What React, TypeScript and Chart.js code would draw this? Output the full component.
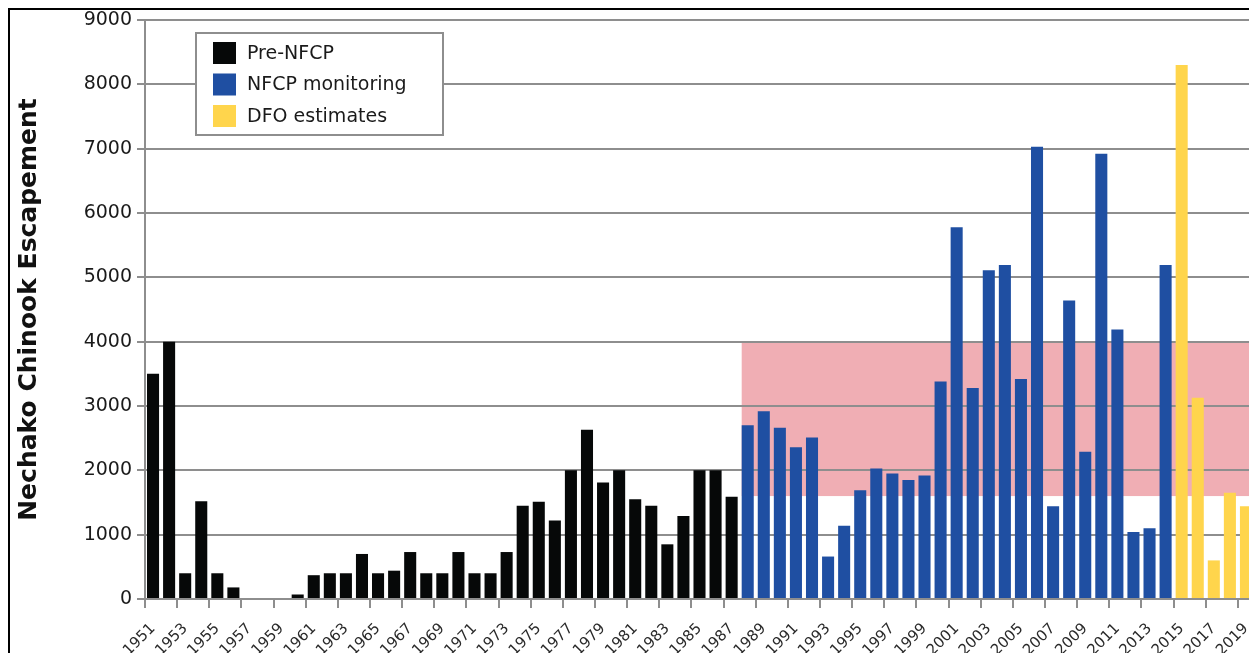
import React, { useEffect, useRef } from "react";
import { Chart, registerables } from "chart.js";

Chart.register(...registerables);

// ---- data ----
const YEARS = [
  "1951", "1952", "1953", "1954", "1955", "1956", "1957", "1958", "1959", "1960",
  "1961", "1962", "1963", "1964", "1965", "1966", "1967", "1968", "1969", "1970",
  "1971", "1972", "1973", "1974", "1975", "1976", "1977", "1978", "1979", "1980",
  "1981", "1982", "1983", "1984", "1985", "1986", "1987", "1988", "1989", "1990",
  "1991", "1992", "1993", "1994", "1995", "1996", "1997", "1998", "1999", "2000",
  "2001", "2002", "2003", "2004", "2005", "2006", "2007", "2008", "2009", "2010",
  "2011", "2012", "2013", "2014", "2015", "2016", "2017", "2018", "2019",
];

// 1951–1987
const PRE_NFCP = [
  3500, 4000, 400, 1520, 400, 180, 0, 0, 0, 70,
  370, 400, 400, 700, 400, 440, 730, 400, 400, 730,
  400, 400, 730, 1450, 1510, 1220, 2000, 2630, 1810, 2000,
  1550, 1450, 850, 1290, 2000, 2000, 1590,
];

// 1988–2014
const NFCP_MONITORING = [
  2700, 2920, 2660, 2360, 2510, 660, 1140, 1690, 2030, 1950,
  1850, 1920, 3380, 5780, 3280, 5110, 5190, 3420, 7030, 1440,
  4640, 2290, 6920, 4190, 1040, 1100, 5190,
];

// 2015–2019
const DFO_ESTIMATES = [8300, 3130, 600, 1650, 1440];

const SERIES_LABELS = ["Pre-NFCP", "NFCP monitoring", "DFO estimates"];
const SERIES_COLORS = ["#060808", "#1f4fa2", "#ffd54c"];

const Y_MIN = 0;
const Y_MAX = 9000;
const Y_STEP = 1000;

// target band (escapement range) from 1988 onward
const BAND_START_YEAR = "1988";
const BAND_LOW = 1600;
const BAND_HIGH = 4000;

const Y_TITLE = "Nechako Chinook Escapement";

// ---- styles ----
const FONT = "'DejaVu Sans', Verdana, sans-serif";
const GRID_GRAY = "#8e8e8e";
const BAND_COLOR = "#f0aeb4";
const BAR_PCT = 0.75;

function pad(values: number[], offset: number): (number | null)[] {
  return YEARS.map((_, i) => {
    const j = i - offset;
    return j >= 0 && j < values.length ? values[j] : null;
  });
}

const bandPlugin = {
  id: "bandPlugin",
  beforeDraw(chart: any) {
    const { ctx, chartArea, scales } = chart;
    const xs = scales.x;
    const ys = scales.y;
    const idx = YEARS.indexOf(BAND_START_YEAR);
    const catW = (chartArea.right - chartArea.left) / YEARS.length;
    const left = xs.getPixelForValue(idx) - (catW * BAR_PCT) / 2;
    const top = ys.getPixelForValue(BAND_HIGH);
    const bottom = ys.getPixelForValue(BAND_LOW);
    ctx.save();
    ctx.fillStyle = BAND_COLOR;
    ctx.fillRect(left, top, chartArea.right - left, bottom - top);
    ctx.restore();
  },
};

const boxLegendPlugin = {
  id: "boxLegend",
  afterDraw(chart: any) {
    const { ctx, chartArea } = chart;
    const bx = chartArea.left + 51;
    const by = chartArea.top + 13;
    const bw = 247;
    const bh = 102;
    ctx.save();
    ctx.fillStyle = "#ffffff";
    ctx.fillRect(bx, by, bw, bh);
    ctx.strokeStyle = GRID_GRAY;
    ctx.lineWidth = 2;
    ctx.strokeRect(bx, by, bw, bh);
    ctx.font = `19px ${FONT}`;
    ctx.textBaseline = "middle";
    ctx.textAlign = "left";
    chart.data.datasets.forEach((ds: any, i: number) => {
      const cy = by + 20 + i * 31.5;
      ctx.fillStyle = ds.backgroundColor;
      ctx.fillRect(bx + 17, cy - 11, 23, 22);
      ctx.fillStyle = "#1a1a1a";
      ctx.fillText(ds.label, bx + 51, cy + 1);
    });
    ctx.restore();
  },
};

export default function App() {
  const ref = useRef<HTMLCanvasElement | null>(null);

  useEffect(() => {
    if (!ref.current) return;
    const chart = new Chart(ref.current, {
      type: "bar",
      data: {
        labels: YEARS,
        datasets: [
          {
            label: SERIES_LABELS[0],
            data: pad(PRE_NFCP, 0),
            backgroundColor: SERIES_COLORS[0],
          },
          {
            label: SERIES_LABELS[1],
            data: pad(NFCP_MONITORING, PRE_NFCP.length),
            backgroundColor: SERIES_COLORS[1],
          },
          {
            label: SERIES_LABELS[2],
            data: pad(DFO_ESTIMATES, PRE_NFCP.length + NFCP_MONITORING.length),
            backgroundColor: SERIES_COLORS[2],
          },
        ],
      },
      options: {
        animation: false,
        responsive: false,
        maintainAspectRatio: false,
        layout: { padding: { top: 10, right: 1, left: 0, bottom: 0 } },
        datasets: {
          bar: { grouped: false, barPercentage: BAR_PCT, categoryPercentage: 1 },
        },
        plugins: {
          legend: { display: false },
          tooltip: { enabled: false },
        },
        scales: {
          x: {
            offset: true,
            grid: {
              offset: true,
              drawOnChartArea: false,
              tickLength: 9,
              lineWidth: 2,
              color: GRID_GRAY,
              tickColor: (c: any) => (c.index % 2 === 0 ? GRID_GRAY : "rgba(0,0,0,0)"),
            },
            border: { color: GRID_GRAY, width: 2 },
            ticks: {
              autoSkip: false,
              minRotation: 45,
              maxRotation: 45,
              padding: 12,
              color: "#2a2a2a",
              font: { family: FONT, size: 15 },
              callback: (_v: any, i: number) => (i % 2 === 0 ? YEARS[i] : ""),
            },
            afterFit: (s: any) => {
              s.height = 54;
              s.paddingLeft = 0;
              s.paddingRight = 0;
            },
          },
          y: {
            min: Y_MIN,
            max: Y_MAX,
            ticks: {
              stepSize: Y_STEP,
              color: "#1a1a1a",
              padding: 5,
              font: { family: FONT, size: 19 },
              callback: (v: any) => String(v),
            },
            grid: { color: GRID_GRAY, lineWidth: 2, tickLength: 8 },
            border: { color: GRID_GRAY, width: 2 },
            title: {
              display: true,
              text: Y_TITLE,
              color: "#111",
              font: { family: FONT, size: 25, weight: "bold" },
              padding: { top: 4, bottom: 0 },
            },
            afterFit: (s: any) => {
              s.width = 135;
              s.paddingTop = 0;
              s.paddingBottom = 0;
            },
          },
        },
      },
      plugins: [bandPlugin, boxLegendPlugin],
    } as any);
    return () => chart.destroy();
  }, []);

  return (
    <div
      style={{
        width: 1249,
        height: 645,
        boxSizing: "border-box",
        borderTop: "2px solid #000",
        borderLeft: "2px solid #000",
        borderRight: "2px solid #000",
        background: "#fff",
        overflow: "hidden",
      }}
    >
      <canvas ref={ref} width={1245} height={643} style={{ display: "block" }} />
    </div>
  );
}
